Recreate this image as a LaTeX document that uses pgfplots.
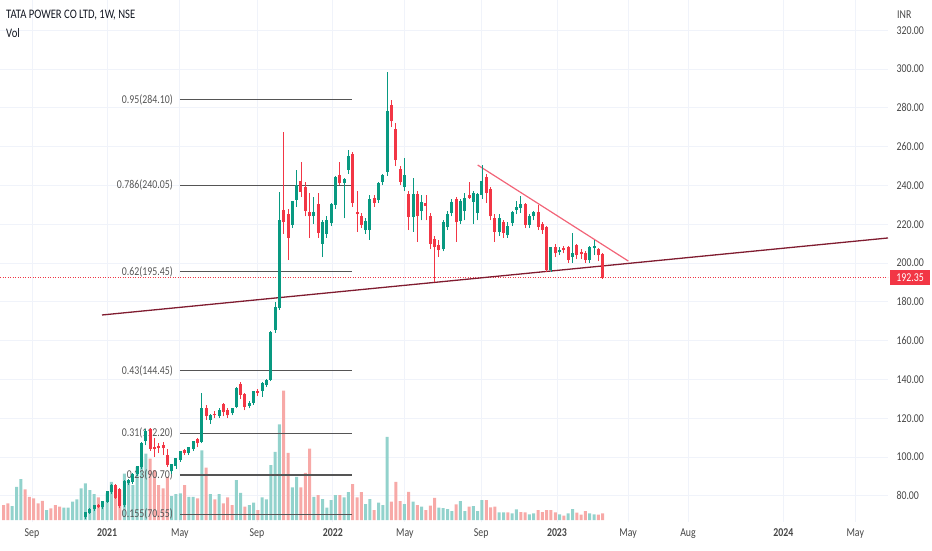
\documentclass[border=0pt]{standalone}
\usepackage{pgfplots}
\pgfplotsset{compat=1.18}
\usepackage{pgfplotstable}
\usepackage{fontspec}
\setmainfont{Carlito}[FakeStretch=0.82]
\definecolor{cgreen}{RGB}{8,153,129}
\definecolor{cred}{RGB}{242,54,69}
\definecolor{vgreen}{RGB}{146,210,204}
\definecolor{vred}{RGB}{247,169,167}
\definecolor{gridc}{RGB}{240,243,250}
\definecolor{maroonl}{RGB}{128,28,48}
\definecolor{pinkl}{RGB}{242,100,120}
\definecolor{fibc}{RGB}{85,85,85}
\definecolor{txtc}{RGB}{19,23,34}
\definecolor{tickc}{RGB}{70,70,70}
\newcommand\tvf{\fontsize{12pt}{14pt}\selectfont}
\newcommand\tvt{\fontsize{13pt}{15pt}\selectfont}

\pgfplotstableread{
k o h l c
-5 69 71.5 68 71
-4 71 73.5 70.5 73
-3 73 75.5 72 75
-1 74 77.5 73 77
0 77 82.5 76.5 82
1 82 86 81 85
4 75 88 74 87
5 86.5 88.5 85.5 87.5
6 87 91.5 86 91
7 91 95.5 90 95
8 95 107.5 94 107
9 108 114.5 106 113
15 93 96.5 91 96
16 95.5 99.5 94 99
17 98.5 103 97.5 102.5
19 102 105 101 104.6
20 104 108 103 107.7
22 107.7 133 107 125
24 119 122 117 121
26 121 125 120 124
29 122.5 125.5 121.5 125
30 126 136 125 135
33 126.5 129 125 127.5
34 128 134 127 133.5
36 134 138.5 131 137.6
37 137 140 136 139.5
38 139.7 165 139 164
39 165.5 180 164 177
40 177 236.6 176 222
43 219.6 232 218 231.5
44 232.5 248 229 240
48 224 234 220 226
50 210 222 203 220.6
51 215 224 213 222
52 220.6 231 219 230
53 230 245 228 244
55 241 244 223 243
56 248 258 246 255
60 217 223 215 221
61 217 235 212 232.5
63 232.5 242 231 241
64 241.7 246 240 245
65 247 298.5 245 278
69 239 254 237 245
71 223.7 244 216 235
73 227 235 222 231
78 207 222 206 220.6
79 218.6 227 217 225
80 226 233 224 231
82 221.6 233 220 231.5
83 227 236 222 233
85 231.5 237 220 235.6
86 226 236 222 235
87 235 250.5 233 242
91 216 225 214 223
93 214.4 221 213 218.5
94 220.6 227 219 225.8
95 227.5 232 225 228.5
96 228.6 234.5 226 230
98 219.6 225 218 223.7
99 224 227 222 226
103 196.4 208.5 195.5 207.7
105 205.5 208 204 206.5
108 203 215.5 200 205
112 201.5 209 200 207.7
113 207.5 212 204 208.5
}\upT

\pgfplotstableread{
k o h l c
-2 74.8 76 73.5 74
2 85 86 78.5 79
3 83 84 73.5 74.5
10 114 115 103 104
11 105 110 100 104
12 105.5 107 102 104.8
13 106 107.5 101 104.5
14 100.5 104 95 96
18 103 104 101 102
21 108.8 110 105 107
23 125 127 119 121
25 122 123.5 120 121.5
27 127 128 121 123
28 124 125 120 121.5
31 137 138.5 130 132
32 132 133 124 126
35 133.8 135 131.5 133
41 227 267.5 215 221
42 225 228 201.5 213
45 242 252 234 236.5
46 239 242 224 227
47 226 236 213 224
49 230 236 213 215.5
54 245 252 240 241
57 256 257 229 231
58 226 237 216 225
59 224 226 218 219.6
62 233 235 229 231
66 281 284 270 273
67 268.5 272 250 253
68 248 250 240 241.8
70 235 237 217 223.7
72 235 237 211 224
74 230.5 235 222 229.5
75 224 226 207 210
76 212 214 190 208
77 209 212 203 206.7
81 232.5 234 211 221
84 234.5 241.7 233 233.5
88 244 246 231 236
89 237.6 239 222 224
90 223 225 211 216
92 220.6 222 213 215.5
97 230 231 218 219.6
100 225.8 230 217 218.6
101 219.6 221 215 217
102 218 219 195.5 196.4
104 208 210 203 205
106 207.5 209 205 206.5
107 207.7 209 200 201.5
109 209 210 202 204
110 205.5 207 202 204.5
111 204.6 206 200 201.5
114 206.7 207.5 201 204
115 204 205 192 192.35
}\downT

\pgfplotstableread{
k v
-22 42
-21 100
-20 123
-14 30
-10 37
-9 37
-8 55
-7 62
-6 95
-5 110
-4 90
-3 78
-1 55
0 80
1 115
4 140
5 115
6 105
7 160
8 185
9 200
15 72
16 78
17 80
19 70
20 70
22 210
24 78
26 78
30 120
31 82
33 45
34 52
36 68
37 62
38 165
39 205
40 288
43 98
44 130
48 70
50 63
51 37
52 60
53 75
55 68
56 84
60 48
61 63
63 52
64 45
65 250
69 48
71 55
73 40
77 37
78 36
79 33
80 27
82 57
83 27
85 42
86 27
87 60
91 23
92 23
94 20
95 32
98 17
99 20
105 17
107 20
108 33
112 20
113 17
}\volG

\pgfplotstableread{
k v
-24 45
-23 50
-19 92
-18 70
-17 65
-16 50
-15 58
-13 35
-12 45
-11 40
-2 68
2 100
3 90
10 185
11 150
12 105
13 95
14 130
18 105
21 65
23 158
25 62
27 50
28 68
29 45
32 40
35 30
41 390
42 202
45 98
46 142
47 215
49 75
54 75
57 108
58 68
59 84
62 30
66 55
67 115
68 57
70 85
72 45
74 30
75 43
76 67
81 47
84 40
88 60
89 38
90 40
93 23
96 24
97 23
100 30
101 24
102 30
103 30
104 23
106 13
109 22
110 16
111 27
114 16
115 20
}\volR

\begin{document}
\begin{tikzpicture}
\path[use as bounding box] (0,0) rectangle (932pt,550pt);
% grid and tick labels
\begin{axis}[
  at={(0pt,28pt)}, anchor=south west,
  width=888pt, height=522pt, scale only axis,
  xmin=-24.83, xmax=181.2, ymin=66.49, ymax=335.57,
  axis line style={draw=none},
  major tick length=0pt,
  ytick={80,100,120,140,160,180,200,220,240,260,280,300,320},
  yticklabels={80.00,100.00,120.00,140.00,160.00,180.00,200.00,220.00,240.00,260.00,280.00,300.00,320.00},
  yticklabel pos=right,
  yticklabel style={anchor=west, font=\tvf, text=tickc},
  yticklabel shift=5pt,
  xtick={-17.4,0,16.9,34.8,52.4,69.1,86.8,104.4,120.9,134.8,156.9,173.6},
  xticklabels={Sep,\textbf{2021},May,Sep,\textbf{2022},May,Sep,\textbf{2023},May,Aug,\textbf{2024},May},
  xticklabel style={font=\tvf, text=tickc},
  xticklabel shift=3pt,
  grid=major,
  major grid style={draw=gridc, line width=0.8pt},
]
\end{axis}
% volume
\begin{axis}[
  at={(0pt,28pt)}, anchor=south west,
  width=888pt, height=522pt, scale only axis,
  xmin=-24.83, xmax=181.2, ymin=-6, ymax=1566,
  hide axis,
]
\addplot[ybar, bar width=3pt, bar shift=0pt, fill=vgreen, draw=none] table[x=k, y=v] {\volG};
\addplot[ybar, bar width=3pt, bar shift=0pt, fill=vred, draw=none] table[x=k, y=v] {\volR};
\end{axis}
% price
\begin{axis}[
  at={(0pt,28pt)}, anchor=south west,
  width=888pt, height=522pt, scale only axis,
  xmin=-24.83, xmax=181.2, ymin=66.49, ymax=335.57,
  hide axis,
]
% dotted last price line
\addplot[cred, line width=0.7pt, dash pattern=on 1pt off 1.5pt] coordinates {(-24.83,192.35) (181.2,192.35)};
% fibonacci levels
\foreach \lv/\lab in {284.10/0.95(284.10), 240.05/0.786(240.05), 195.45/0.62(195.45), 144.45/0.43(144.45), 112.20/0.31(112.20), 90.70/0.23(90.70), 70.55/0.155(70.55)}{
  \edef\tmp{\noexpand\node[anchor=east, font=\noexpand\tvf, text=fibc, inner sep=0pt] at (axis cs:15.3,\lv) {\lab};}
  \tmp
}
\addplot[fibc, line width=1.1pt] coordinates {(16.9,284.10) (56.8,284.10)};
\addplot[fibc, line width=1.1pt] coordinates {(16.9,240.05) (56.8,240.05)};
\addplot[fibc, line width=1.1pt] coordinates {(16.9,195.45) (56.8,195.45)};
\addplot[fibc, line width=1.1pt] coordinates {(16.9,144.45) (56.8,144.45)};
\addplot[fibc, line width=1.1pt] coordinates {(16.9,112.20) (56.8,112.20)};
\addplot[fibc, line width=1.1pt] coordinates {(16.9,90.70) (56.8,90.70)};
\addplot[fibc, line width=1.1pt] coordinates {(16.9,70.55) (56.8,70.55)};
% trend lines
\addplot[maroonl, line width=1.3pt] coordinates {(-1.16,173.2) (181.2,212.9)};
\addplot[pinkl, line width=1.2pt] coordinates {(86.0,250.5) (120.95,201.0)};
% candles: wicks
\addplot[draw=none, mark=none, error bars/.cd, y dir=plus, y explicit, error mark=none, error bar style={line width=0.9pt, draw=cgreen, solid}]
  table[x=k, y=l, y error plus expr=\thisrow{h}-\thisrow{l}] {\upT};
\addplot[draw=none, mark=none, error bars/.cd, y dir=plus, y explicit, error mark=none, error bar style={line width=0.9pt, draw=cred, solid}]
  table[x=k, y=l, y error plus expr=\thisrow{h}-\thisrow{l}] {\downT};
% candles: bodies
\addplot[draw=none, mark=none, error bars/.cd, y dir=plus, y explicit, error mark=none, error bar style={line width=3pt, draw=cgreen, solid}]
  table[x=k, y=o, y error plus expr=\thisrow{c}-\thisrow{o}+0.4] {\upT};
\addplot[draw=none, mark=none, error bars/.cd, y dir=plus, y explicit, error mark=none, error bar style={line width=3pt, draw=cred, solid}]
  table[x=k, y=c, y error plus expr=\thisrow{o}-\thisrow{c}+0.4] {\downT};
\coordinate (lastp) at (axis cs:181.2,192.35);
\end{axis}
% header texts
\node[anchor=base west, font=\tvt, text=txtc, inner sep=0pt] at (6pt,531pt) {TATA POWER CO LTD, 1W, NSE};
\node[anchor=base west, font=\tvt, text=txtc, inner sep=0pt] at (6pt,512pt) {Vol};
\fill[white] (889pt,524pt) rectangle (932pt,550pt);
\node[anchor=base west, font=\tvf, text=tickc, inner sep=0pt] at (897pt,531pt) {INR};
% last price label
\node[anchor=west, fill=cred, text=white, font=\tvf, inner sep=0pt, minimum height=15pt, minimum width=40pt] at ([xshift=2pt]lastp) {192.35};
\end{tikzpicture}
\end{document}
